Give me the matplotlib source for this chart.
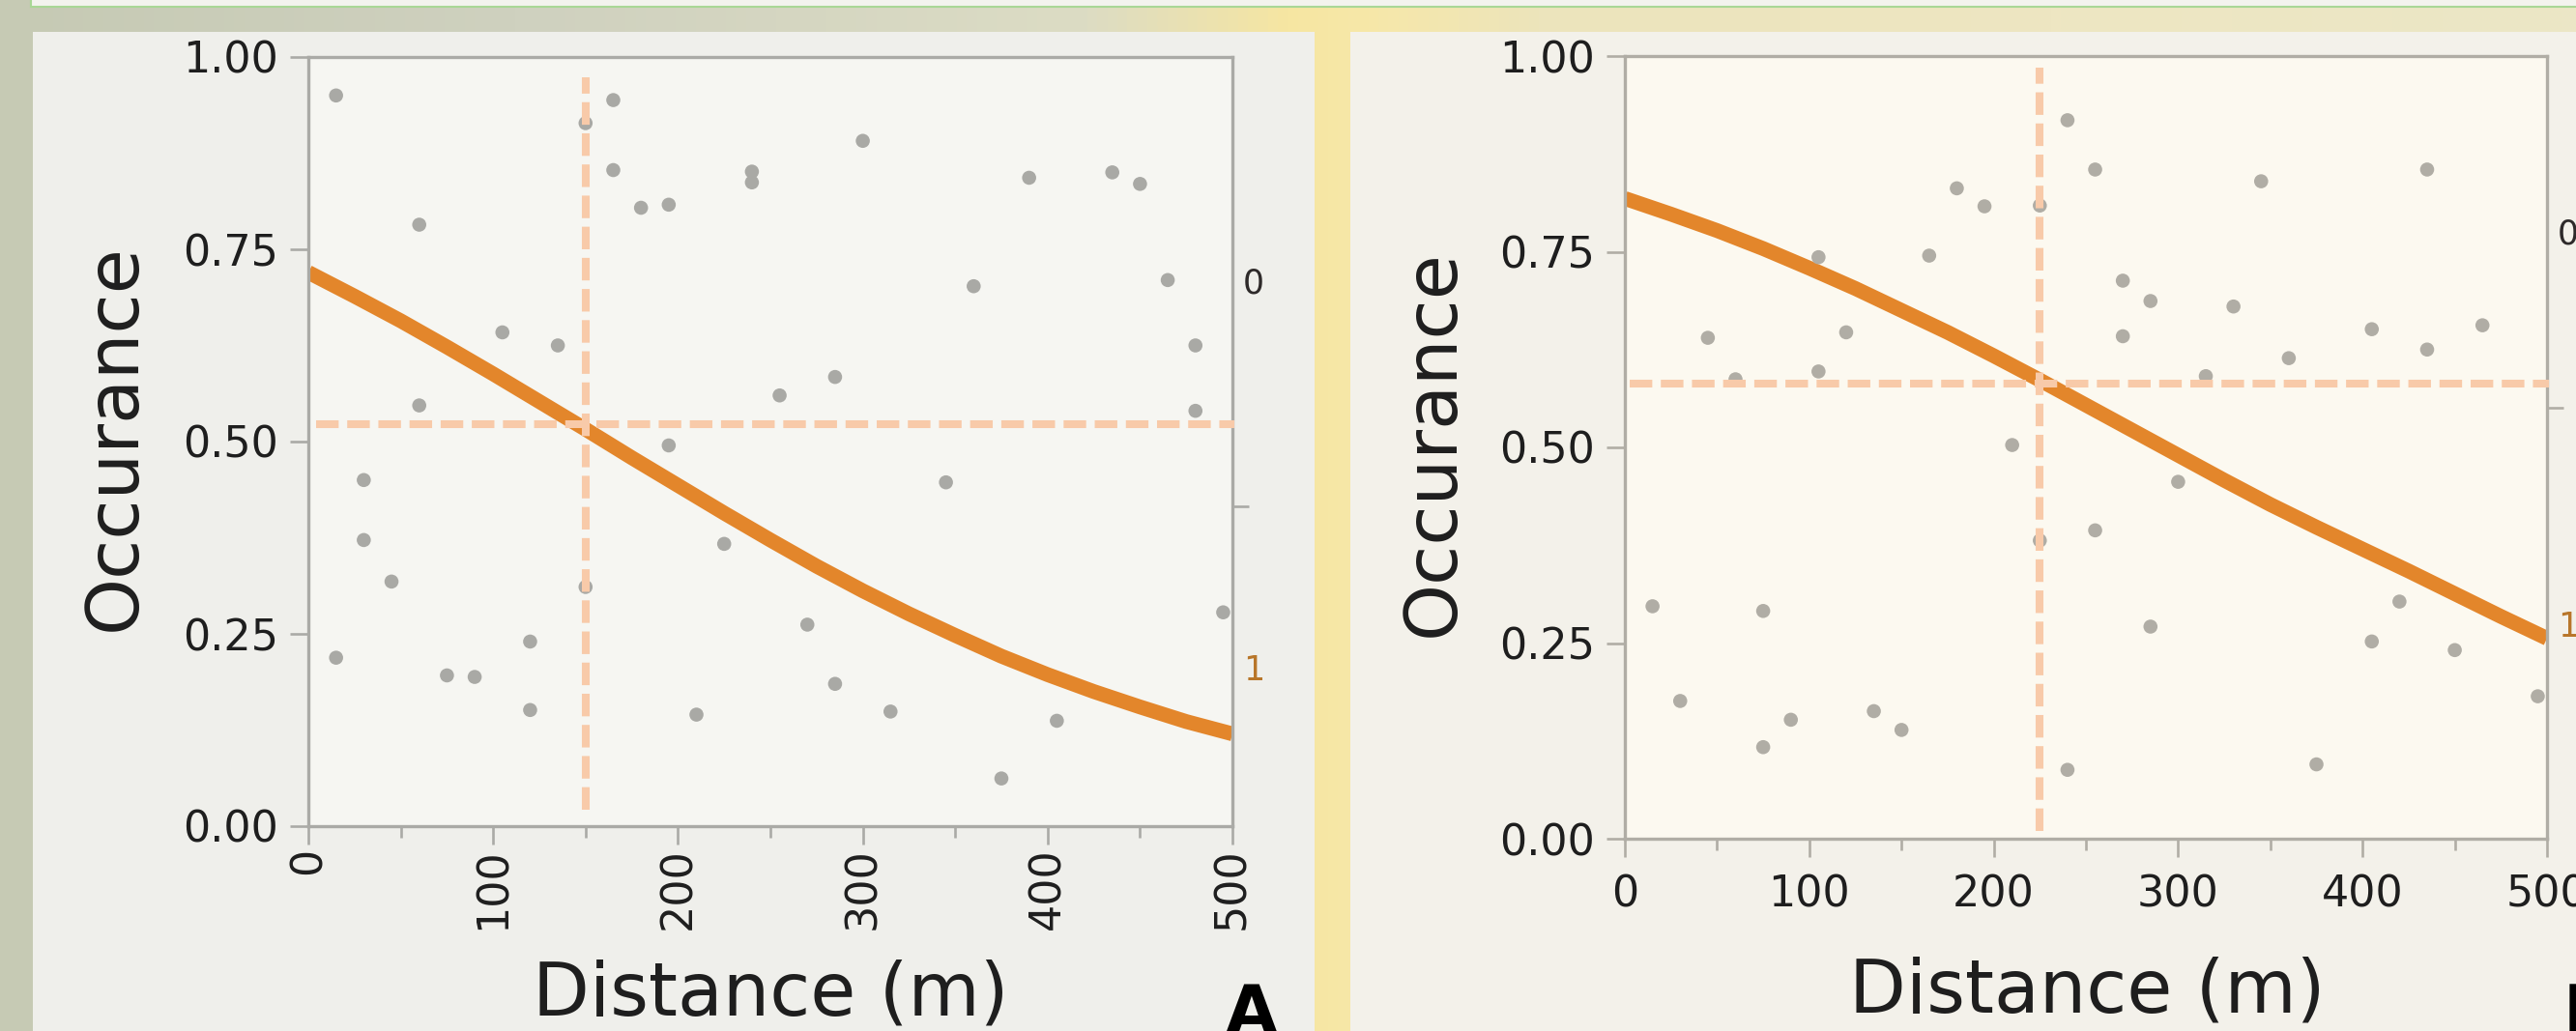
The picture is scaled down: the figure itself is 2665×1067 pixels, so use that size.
import numpy as np
import matplotlib
matplotlib.use('Agg')
import matplotlib.pyplot as plt
from matplotlib.patches import Rectangle
from matplotlib.colors import LinearSegmentedColormap

# ---- data ----
a_dist = [15, 165, 150, 300, 240, 240, 165, 390, 435, 450, 180, 195, 60, 360, 465,
          105, 135, 480, 285, 255, 60, 480, 195, 30, 345, 30, 225, 45, 150, 495,
          270, 120, 15, 75, 90, 285, 120, 315, 210, 405, 375]
a_occ = [0.950, 0.944, 0.914, 0.891, 0.851, 0.837, 0.853, 0.843, 0.850, 0.835, 0.804,
         0.808, 0.782, 0.702, 0.710, 0.642, 0.625, 0.625, 0.584, 0.560, 0.547, 0.540,
         0.495, 0.450, 0.447, 0.372, 0.367, 0.318, 0.311, 0.278, 0.262, 0.240, 0.219,
         0.196, 0.194, 0.185, 0.151, 0.149, 0.145, 0.137, 0.062]

b_dist = [240, 255, 435, 345, 180, 195, 225, 105, 165, 270, 285, 330, 45, 120, 270,
          405, 465, 435, 360, 60, 105, 315, 210, 300, 225, 255, 15, 75, 285, 420,
          405, 450, 30, 135, 90, 150, 75, 495, 375, 240]
b_occ = [0.918, 0.855, 0.855, 0.840, 0.831, 0.808, 0.809, 0.743, 0.745, 0.713, 0.687,
         0.680, 0.640, 0.647, 0.642, 0.651, 0.656, 0.625, 0.614, 0.587, 0.597, 0.591,
         0.503, 0.456, 0.381, 0.394, 0.297, 0.291, 0.271, 0.303, 0.252, 0.241, 0.176,
         0.163, 0.152, 0.139, 0.117, 0.182, 0.095, 0.088]

# fitted curves, read every 25 m
curve_dist = [0, 25, 50, 75, 100, 125, 150, 175, 200, 225, 250, 275, 300, 325, 350,
              375, 400, 425, 450, 475, 500]
a_curve = [0.720, 0.689, 0.657, 0.623, 0.588, 0.552, 0.516, 0.479, 0.443, 0.407, 0.372,
           0.338, 0.306, 0.276, 0.248, 0.221, 0.197, 0.175, 0.155, 0.136, 0.120]
b_curve = [0.818, 0.798, 0.777, 0.754, 0.729, 0.703, 0.675, 0.647, 0.617, 0.586, 0.554,
           0.522, 0.490, 0.458, 0.427, 0.398, 0.370, 0.342, 0.313, 0.284, 0.256]

# crosshairs (x, y)
a_cross = (150, 0.523)
b_cross = (225, 0.581)

# right-hand level labels: positions of "0", "1" and boundary
a_levels = [0.710, 0.207]
a_bound = 0.416
b_levels = [0.777, 0.275]
b_bound = 0.551
level_names = ['0', '1']

x_ticks = [0, 100, 200, 300, 400, 500]
x_minor = [50, 150, 250, 350, 450]
y_ticks = [0, 0.25, 0.5, 0.75, 1.0]
y_tick_labels = ['0.00', '0.25', '0.50', '0.75', '1.00']

W, H = 2665, 1067
fig = plt.figure(figsize=(W / 100, H / 100), dpi=100)


def px(x0, y0, x1, y1):
    return [x0 / W, 1 - y1 / H, (x1 - x0) / W, (y1 - y0) / H]


# background (blurred photo look)
bg = fig.add_axes([0, 0, 1, 1])
bg.set_axis_off()
cmap = LinearSegmentedColormap.from_list('bg', [
    (0.0, '#c6cab4'), (0.2, '#cfd1bf'), (0.42, '#dcdcc4'), (0.5, '#f6e6a2'),
    (0.53, '#f7e8a8'), (0.6, '#ece4bc'), (0.8, '#eee6c2'), (1.0, '#ebe6c6')])
bg.imshow(np.linspace(0, 1, 400)[None, :], cmap=cmap, aspect='auto',
          extent=[0, W, H, 0], interpolation='bicubic')
bg.set_xlim(0, W)
bg.set_ylim(H, 0)
bg.add_patch(Rectangle((32, -10), W, 17, fc='#f3f3ee', ec='#a9d796', lw=1.5))
bg.add_patch(Rectangle((34, 33), 1326, 1100, fc='#efefeb', ec='none'))
bg.add_patch(Rectangle((1397, 33), 1300, 1100, fc='#f3f1ea', ec='none'))

axA = fig.add_axes(px(319, 59, 1275, 855))
axB = fig.add_axes(px(1681, 58, 2635, 868))

orange = '#e3862b'
dash_c = '#f8caa9'


def draw(ax, dist, occ, curve, cross, vspan, hstart, levels, bound,
         face, dot_c, spine_c, rotate):
    ax.set_facecolor(face)
    ax.plot(curve_dist, curve, color=orange, lw=11, solid_capstyle='butt', zorder=2)
    ax.scatter(dist, occ, s=110, color=dot_c, edgecolors='none', zorder=3)
    cx, cy = cross
    ax.plot([cx, cx], vspan, color=dash_c, lw=5.8, dashes=(2.9, 1.1),
            dash_capstyle='butt', zorder=4, clip_on=False)
    ax.plot([hstart, 501], [cy, cy], color=dash_c, lw=5.8, dashes=(2.9, 1.1),
            dash_capstyle='butt', zorder=4, clip_on=False)
    ax.set_xlim(0, 500)
    ax.set_ylim(0, 1)
    ax.set_xticks(x_ticks)
    ax.set_xticks(x_minor, minor=True)
    ax.set_yticks(y_ticks)
    ax.set_yticklabels(y_tick_labels)
    for s in ax.spines.values():
        s.set_color(spine_c)
        s.set_linewidth(2.4)
    ax.tick_params(which='major', length=14, width=1.9, color=spine_c,
                   labelsize=32, labelcolor='#1e1e1e')
    ax.tick_params(which='minor', length=8.6, width=1.9, color=spine_c)
    ax.tick_params(axis='y', pad=8)
    if rotate:
        ax.tick_params(axis='x', labelrotation=90, pad=2)
    else:
        ax.tick_params(axis='x', pad=12)

    # right-hand response levels
    r = ax.twinx()
    r.set_ylim(0, 1)
    for s in r.spines.values():
        s.set_visible(False)
    r.set_yticks([bound])
    r.set_yticklabels([''])
    r.set_yticks(levels, minor=True)
    r.set_yticklabels(level_names, minor=True)
    r.tick_params(which='major', length=12, width=1.9, color=spine_c)
    r.tick_params(which='minor', length=0, pad=8, labelsize=25)
    labs = r.get_yticklabels(minor=True)
    labs[0].set_color('#2e2a2a')
    labs[1].set_color('#b8762a')


draw(axA, a_dist, a_occ, a_curve, a_cross, [0.021, 0.973], 4, a_levels, a_bound,
     '#f6f6f2', '#a9a9a5', '#aaaaa6', True)
draw(axB, b_dist, b_occ, b_curve, b_cross, [0.01, 0.985], 2.6, b_levels, b_bound,
     '#fcf9f0', '#b0ada5', '#b0ada5', False)

axA.set_ylabel('Occurance', fontsize=54, color='#1e1e1e', va='center')
axA.yaxis.set_label_coords(-0.2087, 0.5056)
axA.set_xlabel('Distance (m)', fontsize=55, color='#1e1e1e', va='baseline')
axA.xaxis.set_label_coords(0.5, -0.246)

axB.set_ylabel('Occurance', fontsize=54, color='#1e1e1e', va='center')
axB.yaxis.set_label_coords(-0.207, 0.506)
axB.set_xlabel('Distance (m)', fontsize=55, color='#1e1e1e', va='baseline')
axB.xaxis.set_label_coords(0.501, -0.222)

fig.text(1295 / W, -0.002, 'A', fontsize=50, fontweight='bold', ha='center',
         va='baseline', color='black')
fig.text(2652 / W, -0.002, 'B', fontsize=50, fontweight='bold', ha='left',
         va='baseline', color='black')

fig.savefig('out.png', dpi=100)
